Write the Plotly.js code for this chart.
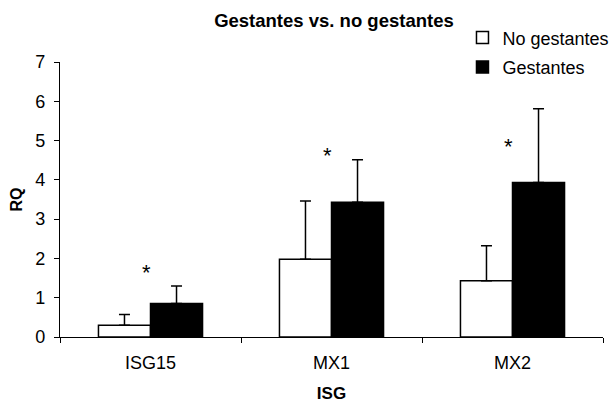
<!DOCTYPE html>
<html>
<head>
<meta charset="utf-8">
<script src="https://cdn.plot.ly/plotly-3.0.1.min.js"></script>
<style>html,body{margin:0;padding:0;background:#fff;}#chart{width:615px;height:403px;}</style>
</head>
<body>
<div id="chart"></div>
<script>
const categories = ["ISG15", "MX1", "MX2"];
const noGestantes = [0.30, 1.98, 1.43];
const noGestantesErr = [0.27, 1.48, 0.89];
const gestantes = [0.85, 3.43, 3.93];
const gestantesErr = [0.45, 1.08, 1.88];
const asteriskY = [1.78, 4.75, 4.97];
const seriesNames = ["No gestantes", "Gestantes"];

const font = "Liberation Sans, Arial, sans-serif";

const traces = [
  {
    type: "bar", name: seriesNames[0], x: categories, y: noGestantes,
    marker: {color: "#ffffff", line: {color: "#000000", width: 1.5}},
    error_y: {type: "data", array: noGestantesErr, symmetric: false,
      arrayminus: noGestantes.map(() => 0), color: "#000000", thickness: 1.5, width: 5.5},
    legendgroup: "a"
  },
  {
    type: "bar", name: seriesNames[1], x: categories, y: gestantes,
    marker: {color: "#000000", line: {color: "#000000", width: 1.5}},
    error_y: {type: "data", array: gestantesErr, symmetric: false,
      arrayminus: gestantes.map(() => 0), color: "#000000", thickness: 1.5, width: 5.5},
    legendgroup: "b"
  }
];

const annotations = categories.map((c, i) => ({
  x: c, y: asteriskY[i], xref: "x", yref: "y", text: "*", showarrow: false,
  font: {family: font, size: 22, color: "#000"}, xshift: -4, yshift: -5
}));

const layout = {
  width: 615, height: 403,
  margin: {l: 60, r: 12, t: 62, b: 66, autoexpand: false},
  paper_bgcolor: "#fff", plot_bgcolor: "#fff",
  font: {family: font, color: "#000"},
  title: {text: "<b>Gestantes vs. no gestantes</b>", font: {family: font, size: 18.5, color: "#000"},
    x: 0.543, xanchor: "center", xref: "container", y: 0.948, yanchor: "middle", yref: "container"},
  barmode: "group", bargap: 0.425, bargroupgap: 0,
  showlegend: true,
  legend: {x: 0.752, xanchor: "left", xref: "container", y: 0.952, yanchor: "top", yref: "container",
    bgcolor: "rgba(0,0,0,0)",
    font: {family: font, size: 18, color: "#000"}, tracegroupgap: 3, itemwidth: 30,
    traceorder: "grouped"},
  xaxis: {
    range: [-0.5, 2.5], type: "category", showgrid: false, zeroline: false,
    showline: true, linecolor: "#000", linewidth: 1.2,
    ticks: "outside", tickson: "boundaries", ticklen: 5, tickcolor: "#000", tickwidth: 1,
    ticklabelstandoff: 9,
    tickfont: {family: font, size: 18, color: "#000"},
    title: {text: "<b>ISG</b>", font: {family: font, size: 17, color: "#000"}, standoff: 16}
  },
  yaxis: {
    range: [0, 7], dtick: 1, showgrid: false, zeroline: false,
    showline: true, linecolor: "#000", linewidth: 1.2,
    ticks: "outside", ticklen: 5, tickcolor: "#000", tickwidth: 1,
    ticklabelstandoff: 5,
    tickfont: {family: font, size: 18, color: "#000"},
    title: {text: "<b>RQ</b>", font: {family: font, size: 16, color: "#000"}, standoff: 8}
  },
  annotations: annotations
};

Plotly.newPlot("chart", traces, layout, {displayModeBar: false, staticPlot: true});
</script>
</body>
</html>
